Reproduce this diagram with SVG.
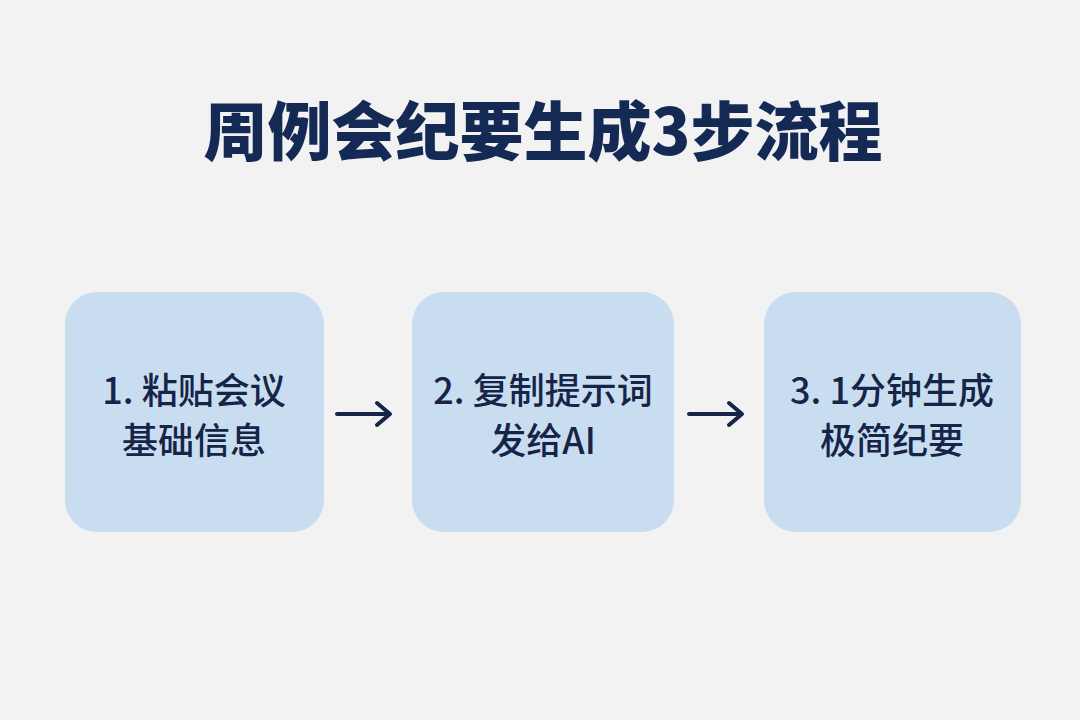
<svg xmlns="http://www.w3.org/2000/svg" width="1080" height="720" viewBox="0 0 1080 720">
<style>
.title{font-family:"Noto Sans CJK SC","Noto Sans",sans-serif;font-weight:900;font-size:64px;fill:#142a55;text-anchor:middle}
.box{fill:#c9ddf1}
.lbl{font-family:"Noto Sans CJK SC","Noto Sans",sans-serif;font-weight:500;font-size:36px;fill:#152447;text-anchor:middle}
.conn{stroke:#152447;stroke-width:4;fill:none;stroke-linecap:round;stroke-linejoin:round}
</style>
<rect width="1080" height="720" fill="#f2f2f2"/>
<text class="title" x="543" y="155">周例会纪要生成3步流程</text>
<g id="node1">
<rect class="box" x="65" y="292" width="259" height="240" rx="32"/>
<text class="lbl" x="194" y="404">1. 粘贴会议</text>
<text class="lbl" x="194" y="454">基础信息</text>
</g>
<g id="node2">
<rect class="box" x="412" y="292" width="262" height="240" rx="32"/>
<text class="lbl" x="543" y="404">2. 复制提示词</text>
<text class="lbl" x="543" y="454">发给AI</text>
</g>
<g id="node3">
<rect class="box" x="764" y="292" width="257" height="240" rx="32"/>
<text class="lbl" x="892" y="404">3. 1分钟生成</text>
<text class="lbl" x="892" y="454">极简纪要</text>
</g>
<g id="connectors">
<path class="conn" d="M337 414 H389 M377 403 L390 414 L377 425"/>
<path class="conn" d="M689 414 H741 M729 403 L742 414 L729 425"/>
</g>
</svg>
